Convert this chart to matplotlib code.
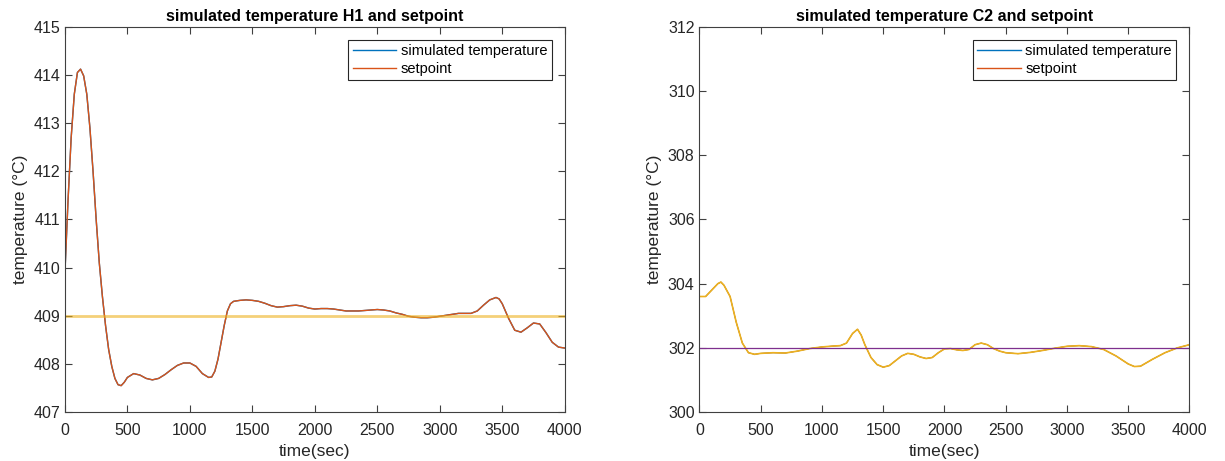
import numpy as np
import matplotlib.pyplot as plt

plt.rcParams['font.family'] = ['Liberation Sans', 'DejaVu Sans']

# H1 temperature (left)
t_h1 = [0, 25, 50, 75, 100, 125, 150, 175, 200, 225, 250, 275, 300, 325, 350,
        375, 400, 425, 450, 475, 500, 550, 600, 650, 700, 750, 800, 850, 900,
        950, 1000, 1050, 1100, 1150, 1175, 1200, 1225, 1250, 1275, 1300, 1325,
        1350, 1400, 1450, 1500, 1550, 1600, 1650, 1700, 1750, 1800, 1850, 1900,
        1950, 2000, 2050, 2100, 2150, 2200, 2250, 2300, 2350, 2400, 2450, 2500,
        2550, 2600, 2650, 2700, 2750, 2800, 2850, 2900, 2950, 3000, 3050, 3100,
        3150, 3200, 3250, 3300, 3350, 3400, 3450, 3475, 3500, 3550, 3600, 3650,
        3700, 3750, 3800, 3850, 3900, 3950, 4000]
temp_h1 = [409.9, 411.4, 412.7, 413.6, 414.05, 414.12, 413.98, 413.6, 412.9, 412.0,
           411.0, 410.1, 409.4, 408.8, 408.3, 407.95, 407.7, 407.57, 407.55,
           407.62, 407.72, 407.8, 407.77, 407.7, 407.67, 407.7, 407.78, 407.88,
           407.97, 408.02, 408.02, 407.95, 407.8, 407.72, 407.73, 407.85, 408.1,
           408.45, 408.8, 409.1, 409.25, 409.3, 409.32, 409.33, 409.32, 409.3,
           409.26, 409.21, 409.18, 409.19, 409.21, 409.22, 409.2, 409.16, 409.14,
           409.15, 409.15, 409.14, 409.12, 409.1, 409.1, 409.1, 409.11, 409.12,
           409.13, 409.12, 409.1, 409.06, 409.03, 408.99, 408.97, 408.96, 408.96,
           408.97, 408.99, 409.01, 409.03, 409.05, 409.05, 409.05, 409.1, 409.22,
           409.33, 409.38, 409.35, 409.25, 408.95, 408.7, 408.66, 408.75, 408.85,
           408.83, 408.65, 408.45, 408.35, 408.33]
sp_h1 = 409

# C2 temperature (right)
t_c2 = [0, 50, 100, 150, 175, 200, 250, 300, 350, 400, 450, 500, 600, 700, 800,
        900, 1000, 1100, 1150, 1200, 1250, 1290, 1320, 1350, 1400, 1450, 1500,
        1550, 1600, 1650, 1700, 1750, 1800, 1850, 1900, 1950, 2000, 2050, 2100,
        2150, 2200, 2250, 2300, 2350, 2400, 2450, 2500, 2600, 2700, 2800, 2900,
        3000, 3100, 3200, 3300, 3400, 3500, 3550, 3600, 3700, 3800, 3900, 4000]
temp_c2 = [303.6, 303.6, 303.8, 304.0, 304.05, 303.95, 303.6, 302.8, 302.15,
           301.85, 301.8, 301.83, 301.85, 301.84, 301.9, 301.98, 302.03, 302.06,
           302.07, 302.15, 302.45, 302.58, 302.4, 302.1, 301.7, 301.48, 301.4,
           301.45, 301.6, 301.75, 301.83, 301.8, 301.72, 301.67, 301.7, 301.85,
           301.97, 301.98, 301.94, 301.92, 301.95, 302.1, 302.15, 302.1, 301.98,
           301.9, 301.85, 301.82, 301.86, 301.92, 301.99, 302.05, 302.07, 302.04,
           301.95, 301.75, 301.5, 301.42, 301.43, 301.65, 301.85, 302.0, 302.1]
sp_c2 = 302

blue = '#0072BD'
orange = '#D95319'
yellow = '#EDB120'
purple = '#7E2F8E'
axcol = '#404040'

fig = plt.figure(figsize=(12.25, 4.61), dpi=100)
ax1 = fig.add_axes([0.053, 0.106, 0.408, 0.836])
ax2 = fig.add_axes([0.571, 0.106, 0.400, 0.836])


def style(ax, ylim, yticks, title):
    ax.set_xlim(0, 4000)
    ax.set_ylim(*ylim)
    ax.set_xticks(range(0, 4001, 500))
    ax.set_yticks(yticks)
    ax.tick_params(direction='in', top=True, right=True, labelsize=11.5,
                   colors=axcol, labelcolor='#262626', length=5)
    ax.tick_params(axis='x', pad=8)
    for s in ax.spines.values():
        s.set_color(axcol)
        s.set_linewidth(0.8)
    ax.set_xlabel('time(sec)', fontsize=12.5, color='#262626', labelpad=4)
    ax.set_ylabel('temperature (°C)', fontsize=12.5, color='#262626', labelpad=4)
    ax.set_title(title, fontsize=11.5, fontweight='bold', pad=4)
    leg = ax.legend(loc='upper right', fontsize=10.5, fancybox=False,
                    framealpha=1, edgecolor='#262626', handlelength=3.0,
                    borderaxespad=0.9, borderpad=0.3, labelspacing=0.25,
                    handletextpad=0.3)
    leg.get_frame().set_linewidth(0.8)
    for ln in leg.get_lines():
        ln.set_linewidth(1.0)


# left
ax1.plot(t_h1, temp_h1, color=blue, lw=1, label='simulated temperature')
ax1.plot(t_h1, temp_h1, color=orange, lw=1, label='setpoint')
ax1.axhline(sp_h1, color=yellow, lw=2, alpha=0.6)
style(ax1, (407, 415), range(407, 416), 'simulated temperature H1 and setpoint')

# right
ax2.plot(t_c2, temp_c2, color=blue, lw=0.6, label='simulated temperature')
ax2.plot(t_c2, temp_c2, color=orange, lw=0.6, label='setpoint')
ax2.plot(t_c2, temp_c2, color=yellow, lw=1.2)
ax2.axhline(sp_c2, color=purple, lw=0.9)
style(ax2, (300, 312), range(300, 313, 2), 'simulated temperature C2 and setpoint')

fig.savefig('out.png', dpi=100)
